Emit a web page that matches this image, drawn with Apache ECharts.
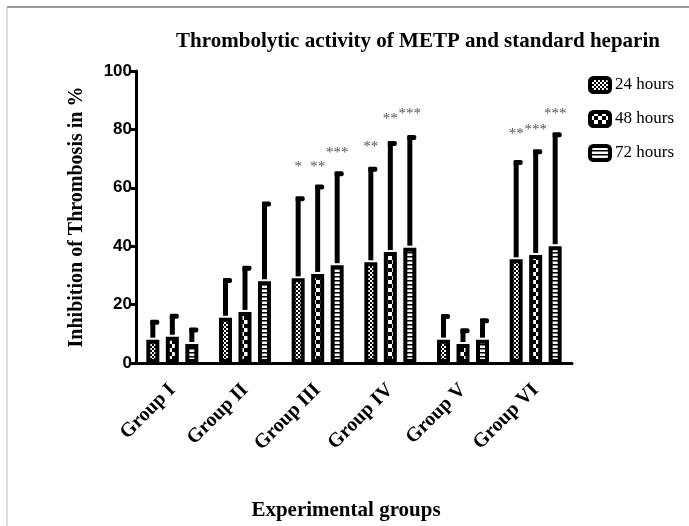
<!DOCTYPE html>
<html>
<head>
<meta charset="utf-8">
<script src="https://cdn.jsdelivr.net/npm/echarts@6/dist/echarts.min.js"></script>
<style>html,body{margin:0;padding:0;background:#fff;}#c{width:689px;height:526px;}</style>
</head>
<body>
<div id="c"></div>
<script>
// ---- data ----
const categories = ['Group I', 'Group II', 'Group III', 'Group IV', 'Group V', 'Group VI'];
const seriesNames = ['24 hours', '48 hours', '72 hours'];
const h24 = [8, 15.5, 29, 34.5, 8, 35.5];
const h48 = [9, 17.5, 30.5, 38, 6.5, 37];
const h72 = [6.5, 28, 33.5, 39.5, 8, 40];
const sd24 = [6.5, 13.3, 27.8, 32.4, 8.4, 33.7];
const sd48 = [7.5, 15.5, 30.3, 37.7, 5.1, 35.9];
const sd72 = [5.3, 27, 31.8, 38.2, 7, 38.7];
const sig24 = ['', '', '*', '**', '', '**'];
const sig48 = ['', '', '**', '**', '', '***'];
const sig72 = ['', '', '***', '***', '', '***'];
const starY24 = [null, null, 67, 74, null, 78.5];
const starY48 = [null, null, 67, 83.7, null, 79.7];
const starY72 = [null, null, 72, 85.4, null, 85.4];
const yTicks = [0, 20, 40, 60, 80, 100];

// ---- patterns ----
function makePattern(kind) {
  const c = document.createElement('canvas');
  const ctx = c.getContext('2d');
  if (kind === 'fine') {
    c.width = 4; c.height = 4;
    ctx.fillStyle = '#fff'; ctx.fillRect(0, 0, 4, 4);
    ctx.fillStyle = '#000'; ctx.fillRect(0, 0, 2, 2); ctx.fillRect(2, 2, 2, 2);
  } else if (kind === 'check') {
    c.width = 8; c.height = 8;
    ctx.fillStyle = '#fff'; ctx.fillRect(0, 0, 8, 8);
    ctx.fillStyle = '#000'; ctx.fillRect(0, 0, 4, 4); ctx.fillRect(4, 4, 4, 4);
  } else {
    c.width = 4; c.height = 4;
    ctx.fillStyle = '#fff'; ctx.fillRect(0, 0, 4, 4);
    ctx.fillStyle = '#000'; ctx.fillRect(0, 0, 4, 1.5);
  }
  return { image: c, repeat: 'repeat' };
}
const patterns = [makePattern('fine'), makePattern('check'), makePattern('stripe')];
const means = [h24, h48, h72];
const sds = [sd24, sd48, sd72];
const sigs = [sig24, sig48, sig72];
const starYs = [starY24, starY48, starY72];
const offsets = [-19.5, 0, 19.5];

const series = [];
seriesNames.forEach((name, k) => {
  series.push({
    name: name,
    type: 'bar',
    data: means[k],
    barWidth: 13,
    barGap: '50%',
    itemStyle: { color: patterns[k], borderColor: '#000', borderWidth: 4 },
    z: 3
  });
});
seriesNames.forEach((name, k) => {
  series.push({
    type: 'custom',
    data: categories.map((c, i) => [i, means[k][i], means[k][i] + sds[k][i]]),
    z: 4,
    renderItem: function (params, api) {
      const idx = api.value(0);
      const base = api.coord([idx, api.value(1)]);
      const top = api.coord([idx, api.value(2)]);
      const x = base[0] + offsets[k];
      return {
        type: 'group',
        children: [
          { type: 'rect', shape: { x: x - 2.5, y: top[1], width: 5, height: base[1] - top[1] - 2 }, style: { fill: '#000' } },
          { type: 'rect', shape: { x: x - 2.5, y: top[1] - 1, width: 9, height: 5, r: [1, 2, 2, 0] }, style: { fill: '#000' } }
        ]
      };
    }
  });
  series.push({
    type: 'custom',
    data: categories.map((c, i) => [i, starYs[k][i] == null ? 0 : starYs[k][i]]),
    z: 5,
    renderItem: function (params, api) {
      const t = sigs[k][params.dataIndex];
      if (!t) return null;
      const p = api.coord([api.value(0), api.value(1)]);
      return {
        type: 'text',
        x: p[0] + offsets[k], y: p[1],
        style: { text: t, fill: '#555', font: '15px "Liberation Serif"', align: 'center', verticalAlign: 'middle' }
      };
    }
  });
});

const chart = echarts.init(document.getElementById('c'), null, { renderer: 'canvas' });
chart.setOption({
  animation: false,
  backgroundColor: '#fff',
  title: {
    text: 'Thrombolytic activity of METP and standard heparin',
    left: 413, top: 26, textAlign: 'center',
    textStyle: { fontFamily: 'Liberation Serif', fontWeight: 'bold', fontSize: 21, color: '#000' }
  },
  legend: {
    data: seriesNames,
    orient: 'vertical',
    left: 583, top: 71,
    itemWidth: 20, itemHeight: 14, itemGap: 16,
    icon: 'roundRect',
    itemStyle: { borderWidth: 4, borderColor: '#000' },
    textStyle: { fontFamily: 'Liberation Serif', fontSize: 17, color: '#000' }
  },
  graphic: [
    { type: 'line', shape: { x1: 7, y1: 7, x2: 689, y2: 7 }, style: { stroke: '#777', lineWidth: 1.5 } },
    { type: 'line', shape: { x1: 7, y1: 7, x2: 7, y2: 526 }, style: { stroke: '#bbb', lineWidth: 1 } }
  ],
  grid: { left: 136, top: 71, width: 436, height: 294 },
  xAxis: {
    type: 'category',
    data: categories,
    name: 'Experimental groups',
    nameLocation: 'middle',
    nameGap: 137,
    nameTextStyle: { fontFamily: 'Liberation Serif', fontWeight: 'bold', fontSize: 21, color: '#000', padding: [0, 16, 0, 0] },
    axisLine: { lineStyle: { color: '#000', width: 3 } },
    axisTick: { alignWithLabel: true, length: 5, lineStyle: { color: '#000', width: 2 } },
    axisLabel: { rotate: 45, margin: 24, fontFamily: 'Liberation Serif', fontWeight: 'bold', fontSize: 20, color: '#000' }
  },
  yAxis: {
    type: 'value',
    min: 0, max: 100, interval: 20,
    name: 'Inhibition of Thrombosis in %',
    nameLocation: 'middle',
    nameGap: 49,
    nameTextStyle: { fontFamily: 'Liberation Serif', fontWeight: 'bold', fontSize: 20, color: '#000' },
    axisLine: { show: true, lineStyle: { color: '#000', width: 3 } },
    axisTick: { show: true, length: 5, lineStyle: { color: '#000', width: 3 } },
    splitLine: { show: false },
    axisLabel: {
      margin: 4, fontFamily: 'Liberation Sans', fontWeight: 'bold', fontSize: 17, color: '#000',
      formatter: v => (yTicks.indexOf(v) >= 0 ? String(v) : '')
    }
  },
  series: series
});
</script>
</body>
</html>
